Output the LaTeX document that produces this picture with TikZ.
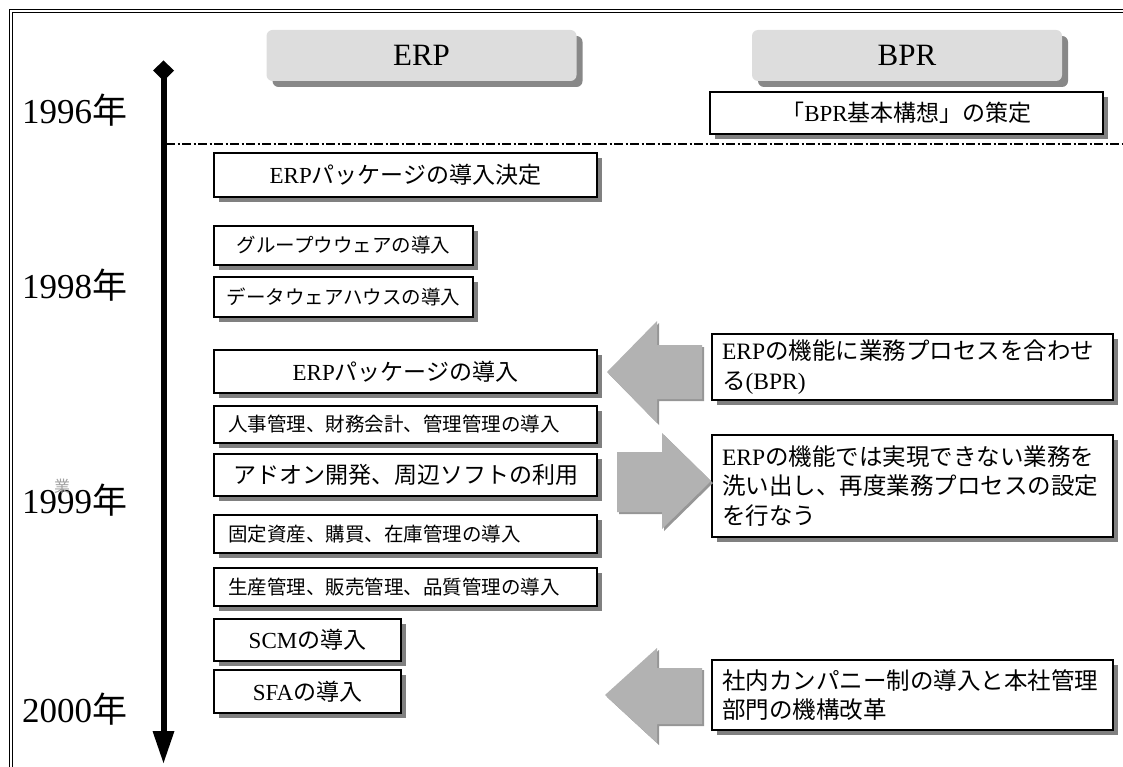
\documentclass[tikz,border=0pt]{standalone}
\usepackage{fontspec}
\setmainfont{Liberation Serif}
\newfontfamily\jp{Noto Sans CJK JP}
\usetikzlibrary{shadows}
\definecolor{hdrfill}{HTML}{DDDDDD}
\definecolor{hdrshadow}{HTML}{888888}
\definecolor{boxshadow}{HTML}{808080}
\definecolor{arrowfill}{HTML}{B2B2B2}
\definecolor{arrowedge}{HTML}{969696}
\definecolor{markgray}{HTML}{A0A0A0}
\tikzset{
  hdr/.style={fill=hdrfill, rounded corners=6pt, minimum width=310pt, minimum height=51pt,
    inner sep=0pt, font=\fontsize{31}{34}\selectfont,
    drop shadow={shadow xshift=6pt, shadow yshift=-6pt, fill=hdrshadow, opacity=1}},
  ebox/.style={draw=black, line width=1.2pt, fill=white, inner sep=0pt,
    drop shadow={shadow xshift=5pt, shadow yshift=-5pt, fill=boxshadow, opacity=1}},
  big/.style={font=\fontsize{23}{28}\selectfont},
  small/.style={font=\fontsize{19.5}{24}\selectfont},
  leftbox/.style={ebox, small, inner xsep=14pt, text width=355pt, align=left},
  rbox/.style={ebox, inner xsep=10pt, text width=381pt, align=left,
    font=\fontsize{23.5}{29.5}\selectfont},
  year/.style={anchor=west, inner sep=0pt, font=\fontsize{35}{40}\selectfont},
  blockarrow/.style={fill=arrowfill},
  blockedge/.style={fill=arrowedge},
  frameline/.style={line width=1.2pt},
  timeline/.style={line width=6pt},
  sepline/.style={line width=1.3pt, dash pattern=on 9pt off 2.5pt on 2pt off 2.5pt}
}
\begin{document}
\begin{tikzpicture}[x=1pt,y=-1pt]
\useasboundingbox (0,0) rectangle (1123,767);
% frame
\draw[frameline] (9.3,767) -- (9.3,9.3) -- (1123,9.3);
\draw[frameline] (12.3,767) -- (12.3,12.3) -- (1123,12.3);

% headers
\node[hdr] (erp) at (421.5,55.5) {ERP};
\node[hdr] (bpr) at (907,55.5) {BPR};

% timeline
\coordinate (ttop) at (163.5,76);
\coordinate (tbot) at (163.5,735);
\draw[timeline] (ttop) -- (tbot);
\fill (153,70.5) -- (163.5,60.5) -- (174,70.5) -- (163.5,81) -- cycle;
\fill (152.5,731) -- (174.5,731) -- (163.5,763) -- cycle;

% separator
\coordinate (sepL) at (166,144);
\coordinate (sepR) at (1123,144);
\draw[sepline] (sepL) -- (sepR);

% years
\node[year] (y1996) at (22,110) {1996{\jp 年}};
\node[year] (y1998) at (22,285) {1998{\jp 年}};
\node[year] (y1999) at (22,500) {1999{\jp 年}};
\node[year] (y2000) at (22,709) {2000{\jp 年}};
\node[text=markgray, inner sep=0pt, font=\jp\fontsize{16}{16}\selectfont] (mark) at (62,486) {業};

% ERP column
\node[ebox, big, minimum width=383pt, minimum height=44pt] (e1) at (405.5,175) {ERP{\jp パッケージの導入決定}};
\node[ebox, small, minimum width=259pt, minimum height=39pt] (e2) at (343.5,245.5) {\jp グループウウェアの導入};
\node[ebox, small, minimum width=259pt, minimum height=40pt] (e3) at (343.5,297) {\jp データウェアハウスの導入};
\node[ebox, big, minimum width=383pt, minimum height=43pt] (e4) at (405.5,371.5) {ERP{\jp パッケージの導入}};
\node[leftbox, minimum height=37pt] (e5) at (405.5,424.5) {\jp 人事管理、財務会計、管理管理の導入};
\node[ebox, big, minimum width=383pt, minimum height=42pt] (e6) at (405.5,475) {\jp アドオン開発、周辺ソフトの利用};
\node[leftbox, minimum height=38pt] (e7) at (405.5,534) {\jp 固定資産、購買、在庫管理の導入};
\node[leftbox, minimum height=38pt] (e8) at (405.5,587) {\jp 生産管理、販売管理、品質管理の導入};
\node[ebox, big, minimum width=187pt, minimum height=42pt] (e9) at (307.5,640) {SCM{\jp の導入}};
\node[ebox, big, minimum width=187pt, minimum height=43pt] (e10) at (307.5,691.5) {SFA{\jp の導入}};

% BPR column
\node[ebox, big, minimum width=393pt, minimum height=42pt] (b1) at (906.5,113) {{\jp 「}BPR{\jp 基本構想」の策定}};
\node[rbox, minimum height=66pt] (b2) at (912.5,367) {ERP{\jp の機能に業務プロセスを合わせ}\\{\jp る}(BPR)};
\node[rbox, minimum height=102pt] (b3) at (912.5,486) {ERP{\jp の機能では実現できない業務を}\\{\jp 洗い出し、再度業務プロセスの設定}\\{\jp を行なう}};
\node[rbox, minimum height=70pt] (b4) at (912.5,695) {{\jp 社内カンパニー制の導入と本社管理}\\{\jp 部門の機構改革}};

% block arrows
\fill[blockedge] (609,374) -- (659,323) -- (659,347) -- (704,347) -- (704,401) -- (659,401) -- (659,425) -- cycle;
\fill[blockarrow] (607,372) -- (657,321) -- (657,345) -- (702,345) -- (702,399) -- (657,399) -- (657,423) -- cycle;

\fill[blockedge] (619,454) -- (664,454) -- (664,435) -- (713,483) -- (664,531) -- (664,514) -- (619,514) -- cycle;
\fill[blockarrow] (617,452) -- (662,452) -- (662,433) -- (711,481) -- (662,529) -- (662,512) -- (617,512) -- cycle;

\fill[blockedge] (607,697) -- (659,650) -- (659,670) -- (704,670) -- (704,726) -- (659,726) -- (659,745) -- cycle;
\fill[blockarrow] (605,695) -- (657,648) -- (657,668) -- (702,668) -- (702,724) -- (657,724) -- (657,743) -- cycle;
\end{tikzpicture}
\end{document}
